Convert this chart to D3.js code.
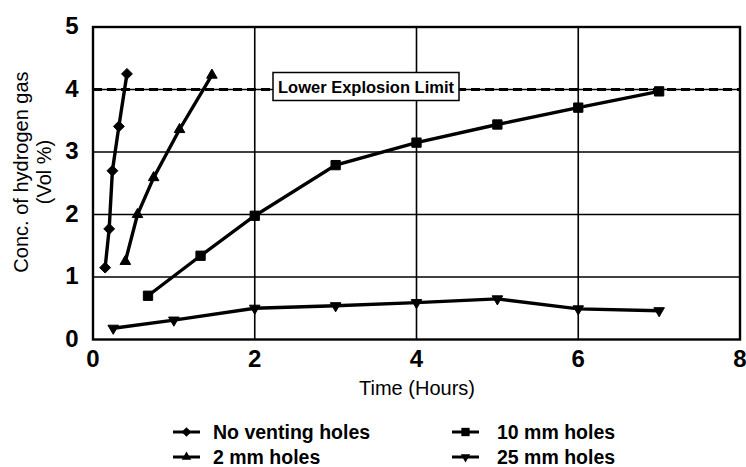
<!DOCTYPE html>
<html><head><meta charset="utf-8">
<script src="https://cdn.jsdelivr.net/npm/d3@7/dist/d3.min.js"></script>
<style>
html,body{margin:0;padding:0;background:#fff;}
svg{display:block;font-family:"Liberation Sans",Arial,Helvetica,sans-serif;}
</style></head>
<body><svg id="c" width="746" height="467"></svg>
<script>
// ---- data ----
const seriesNames = ["No venting holes", "2 mm holes", "10 mm holes", "25 mm holes"];
const noVentTime = [0.15, 0.20, 0.24, 0.32, 0.42];
const noVentConc = [1.15, 1.77, 2.70, 3.41, 4.25];
const twoMmTime = [0.40, 0.55, 0.75, 1.07, 1.47];
const twoMmConc = [1.25, 2.00, 2.59, 3.36, 4.23];
const tenMmTime = [0.68, 1.33, 2, 3, 4, 5, 6, 7];
const tenMmConc = [0.70, 1.34, 1.98, 2.79, 3.15, 3.44, 3.71, 3.97];
const twentyFiveTime = [0.25, 1, 2, 3, 4, 5, 6, 7];
const twentyFiveConc = [0.18, 0.31, 0.50, 0.54, 0.59, 0.65, 0.49, 0.46];
const xTicks = [0, 2, 4, 6, 8];
const yTicks = [0, 1, 2, 3, 4, 5];
const limitValue = 4;
const limitLabel = "Lower Explosion Limit";
const xTitle = "Time (Hours)";
const yTitleLines = ["Conc. of hydrogen gas", "(Vol %)"];

const svg = d3.select("#c");
const x = d3.scaleLinear().domain([0, 8]).range([93, 740]);
const y = d3.scaleLinear().domain([0, 5]).range([339.5, 27]);

const series = [
  {name: seriesNames[0], t: noVentTime, v: noVentConc, sym: d3.symbolDiamond2, size: 75, rot: 0},
  {name: seriesNames[1], t: twoMmTime, v: twoMmConc, sym: d3.symbolTriangle2, size: 80, rot: 0},
  {name: seriesNames[2], t: tenMmTime, v: tenMmConc, sym: d3.symbolSquare2, size: 110, rot: 0},
  {name: seriesNames[3], t: twentyFiveTime, v: twentyFiveConc, sym: d3.symbolTriangle2, size: 80, rot: 180}
];

// gridlines
const g = svg.append("g");
g.selectAll("line.h").data(yTicks.filter(d => d > 0 && d < 5)).enter().append("line")
  .attr("x1", x(0)).attr("x2", x(8)).attr("y1", d => y(d)).attr("y2", d => y(d))
  .attr("stroke", "#000").attr("stroke-width", 1.4);
g.selectAll("line.v").data(xTicks.filter(d => d > 0 && d < 8)).enter().append("line")
  .attr("y1", y(0)).attr("y2", y(5)).attr("x1", d => x(d)).attr("x2", d => x(d))
  .attr("stroke", "#000").attr("stroke-width", 1.6);

// lower explosion limit dashed
svg.append("line").attr("x1", x(0)).attr("x2", x(8)).attr("y1", y(limitValue)).attr("y2", y(limitValue))
  .attr("stroke", "#000").attr("stroke-width", 3.2).attr("stroke-dasharray", "9,5");

// frame
svg.append("rect").attr("x", x(0)).attr("y", y(5)).attr("width", x(8) - x(0)).attr("height", y(0) - y(5))
  .attr("fill", "none").attr("stroke", "#000").attr("stroke-width", 2.4);

// limit label box
const lbx = 273, lbw = 186;
svg.append("rect").attr("x", lbx).attr("y", y(limitValue) - 17).attr("width", lbw).attr("height", 28)
  .attr("fill", "#fff").attr("stroke", "#000").attr("stroke-width", 1.5);
svg.append("text").attr("x", lbx + lbw / 2).attr("y", y(limitValue) + 3)
  .attr("text-anchor", "middle").attr("font-size", 16.5).attr("font-weight", "bold").text(limitLabel);

// series
const line = d3.line().x(d => x(d[0])).y(d => y(d[1]));
series.forEach(s => {
  const pts = s.t.map((t, i) => [t, s.v[i]]);
  svg.append("path").attr("d", line(pts)).attr("fill", "none").attr("stroke", "#000").attr("stroke-width", 3.4);
  svg.selectAll(null).data(pts).enter().append("path")
    .attr("d", d3.symbol().type(s.sym).size(s.size))
    .attr("transform", d => `translate(${x(d[0])},${y(d[1])}) rotate(${s.rot})`)
    .attr("fill", "#000").attr("stroke", "#000").attr("stroke-width", 1);
});

// tick labels
svg.selectAll("text.yt").data(yTicks).enter().append("text")
  .attr("x", 72).attr("y", d => y(d) + 7).attr("text-anchor", "middle")
  .attr("font-size", 24).attr("font-weight", "bold").text(d => d);
svg.selectAll("text.xt").data(xTicks).enter().append("text")
  .attr("x", d => x(d)).attr("y", 367).attr("text-anchor", "middle")
  .attr("font-size", 24).attr("font-weight", "bold").text(d => d);

// axis titles
svg.append("text").attr("x", 417).attr("y", 395).attr("text-anchor", "middle")
  .attr("font-size", 20).text(xTitle);
yTitleLines.forEach((t, i) => {
  svg.append("text").attr("transform", `translate(${28 + i * 23},172) rotate(-90)`)
    .attr("text-anchor", "middle").attr("font-size", 20).text(t);
});

// legend
const legPos = [[173, 432], [173, 457], [452, 432], [452, 457]];
series.forEach((s, i) => {
  const [lx, ly] = legPos[i];
  svg.append("line").attr("x1", lx).attr("x2", lx + 27).attr("y1", ly).attr("y2", ly)
    .attr("stroke", "#000").attr("stroke-width", 3);
  svg.append("path").attr("d", d3.symbol().type(s.sym).size(s.size * 0.8))
    .attr("transform", `translate(${lx + 13.5},${ly}) rotate(${s.rot})`).attr("fill", "#000");
  svg.append("text").attr("x", lx + (i < 2 ? 40 : 45)).attr("y", ly + 7)
    .attr("font-size", 19.5).attr("font-weight", "bold").text(s.name);
});
</script></body></html>
